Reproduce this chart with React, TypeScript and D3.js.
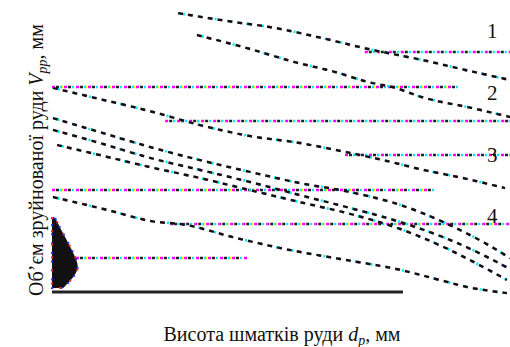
import React from "react";
import * as d3 from "d3";

// x = висота шматків (умовні од.), y = об'єм (умовні од.)
const curve1X = [27.4, 38.0, 48.5, 58.7, 68.7, 80.4, 90.9, 99.6];
const curve1Y = [99.6, 96.8, 94.3, 90.7, 86.8, 82.9, 78.9, 75.7];

const curve2X = [31.5, 42.4, 52.8, 61.5, 68.7, 74.6, 80.4, 91.3, 99.6];
const curve2Y = [91.8, 87.1, 82.1, 78.6, 75.0, 72.9, 69.6, 65.7, 62.5];

const curve3X = [0.2, 10.4, 21.3, 32.2, 43.0, 53.9, 62.6, 72.0, 80.7, 89.3, 98.5];
const curve3Y = [72.9, 68.9, 64.6, 59.6, 55.7, 53.2, 50.4, 47.1, 43.6, 40.7, 37.1];

const curve4X = [0.2, 10.4, 21.3, 32.2, 43.0, 53.9, 64.8, 75.7, 86.5, 94.1, 99.6];
const curve4Y = [62.1, 57.1, 51.8, 47.1, 42.9, 38.9, 35.7, 31.1, 23.9, 17.5, 12.1];

const curve5X = [0.2, 10.4, 21.3, 32.2, 43.0, 53.9, 64.8, 75.7, 86.5, 94.1, 99.1];
const curve5Y = [57.9, 53.2, 47.9, 43.6, 39.3, 34.6, 30.0, 25.0, 18.6, 12.9, 8.6];

const curve6X = [1.1, 10.4, 21.3, 32.2, 43.0, 53.9, 64.8, 75.7, 86.5, 94.1, 98.9];
const curve6Y = [52.5, 48.9, 44.6, 40.7, 36.4, 32.1, 27.9, 22.5, 15.0, 8.6, 4.3];

const curve7X = [0.2, 12.0, 21.3, 29.3, 39.3, 51.7, 62.6, 75.7, 84.3, 90.2, 98.9];
const curve7Y = [33.9, 29.3, 25.4, 23.9, 19.6, 15.0, 11.8, 7.9, 4.3, 1.8, -0.4];

// dense blot at the left edge: level and width
const blotY = [26.4, 22.1, 16.8, 12.1, 8.6, 5.0, 1.4];
const blotW = [0.7, 2.0, 3.8, 5.2, 5.9, 4.6, 2.4];

// horizontal reference levels and their extents
const levelY = [85.7, 73.2, 61.1, 48.9, 36.4, 24.3, 12.1];
const levelFrom = [68.0, 0.0, 24.6, 63.7, 0.0, 25.7, 0.0];
const levelTo = [99.6, 88.7, 99.6, 99.6, 83.3, 99.6, 42.4];

const baseTo = 76.3;

const curveLabels = ["1", "2", "3", "4"];
const labelX = [95.7, 95.7, 95.7, 95.7];
const labelY = [90.7, 68.6, 46.4, 24.6];

const W = 510;
const H = 347;

export default function App() {
  const x = d3.scaleLinear().domain([0, 100]).range([52, 512]);
  const y = d3.scaleLinear().domain([0, 100]).range([292, 12]);

  const line = d3
    .line<[number, number]>()
    .x((d) => x(d[0]))
    .y((d) => y(d[1]))
    .curve(d3.curveMonotoneX);

  const curves = [
    [curve1X, curve1Y],
    [curve2X, curve2Y],
    [curve3X, curve3Y],
    [curve4X, curve4Y],
    [curve5X, curve5Y],
    [curve6X, curve6Y],
    [curve7X, curve7Y],
  ].map(([xs, ys]) => xs.map((v, i) => [v, ys[i]] as [number, number]));

  const blotArea = d3
    .area<[number, number]>()
    .y((d) => y(d[0]))
    .x0(x(0))
    .x1((d) => x(d[1]))
    .curve(d3.curveBasis);
  const blot = blotY.map((v, i) => [v, blotW[i]] as [number, number]);

  const font = "'Liberation Serif', 'Times New Roman', serif";

  return (
    <svg
      width={W}
      height={H}
      style={{ position: "absolute", left: 0, top: 0, background: "#fff" }}
    >
      {/* reference levels */}
      {levelY.map((lv, i) => (
        <g key={"lv" + i} strokeWidth={2.5}>
          <line x1={x(levelFrom[i])} x2={x(levelTo[i])} y1={y(lv)} y2={y(lv)}
            stroke="#ff00ff" strokeDasharray="3 9" />
          <line x1={x(levelFrom[i])} x2={x(levelTo[i])} y1={y(lv)} y2={y(lv)}
            stroke="#222" strokeDasharray="3 9" strokeDashoffset={-4} />
          <line x1={x(levelFrom[i])} x2={x(levelTo[i])} y1={y(lv)} y2={y(lv)}
            stroke="#00e8ff" strokeDasharray="2 10" strokeDashoffset={-8} />
          <line x1={x(levelFrom[i])} x2={x(levelTo[i])} y1={y(lv)} y2={y(lv)}
            stroke="#ffee00" strokeDasharray="1 23" strokeDashoffset={-10} />
        </g>
      ))}

      {/* baseline */}
      <line x1={x(0)} x2={x(baseTo)} y1={y(0)} y2={y(0)} stroke="#222" strokeWidth={3} />

      {/* curves */}
      {curves.map((c, i) => (
        <g key={"c" + i} fill="none">
          <path d={line(c)!} stroke="#00e8ff" strokeWidth={2.5} strokeDasharray="2 14" strokeDashoffset={-5} />
          <path d={line(c)!} stroke="#ff00ff" strokeWidth={2.5} strokeDasharray="2 18" strokeDashoffset={-12} />
          <path d={line(c)!} stroke="#111" strokeWidth={2.5} strokeDasharray="5 5" />
        </g>
      ))}

      {/* blot */}
      <path d={blotArea(blot)!} fill="#111" />
      <path d={blotArea(blot)!} fill="none" stroke="#2030ff" strokeWidth={2} strokeDasharray="2 7" />
      <path d={blotArea(blot)!} fill="none" stroke="#ff2020" strokeWidth={2} strokeDasharray="2 11" strokeDashoffset={-4} />

      {/* curve numbers */}
      {curveLabels.map((t, i) => (
        <text key={"l" + i} x={x(labelX[i])} y={y(labelY[i])} textAnchor="middle"
          fontFamily={font} fontSize={21} fill="#111">
          {t}
        </text>
      ))}

      {/* axis titles */}
      <text x={282} y={341} textAnchor="middle" fontFamily={font} fontSize={20} fill="#111">
        Висота шматків руди <tspan fontStyle="italic">d</tspan>
        <tspan fontStyle="italic" fontSize={14} dy={4}>p</tspan>
        <tspan dy={-4}>, мм</tspan>
      </text>
      <text transform="translate(43,160) rotate(-90)" textAnchor="middle" fontFamily={font}
        fontSize={20} fill="#111">
        Об’єм зруйнованої руди <tspan fontStyle="italic">V</tspan>
        <tspan fontStyle="italic" fontSize={14} dy={4}>pp</tspan>
        <tspan dy={-4}>, мм</tspan>
      </text>
    </svg>
  );
}
